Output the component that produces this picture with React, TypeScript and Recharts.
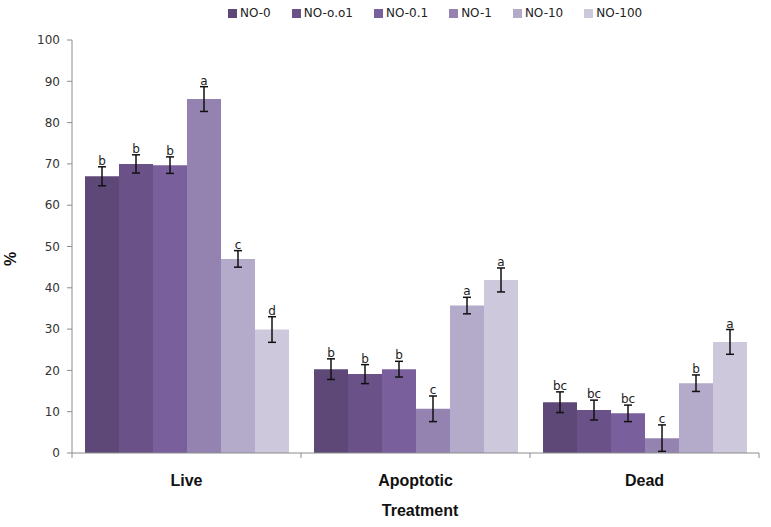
import React from 'react';
import { BarChart, Bar, XAxis, YAxis, ErrorBar, LabelList } from 'recharts';

const categories = ['Live', 'Apoptotic', 'Dead'];
const seriesNames = ['NO-0', 'NO-o.o1', 'NO-0.1', 'NO-1', 'NO-10', 'NO-100'];
const seriesColors = ['#5D4878', '#6A5289', '#7A5F9D', '#9483B0', '#B4AAC9', '#CEC8DC'];

const no0 = [67.0, 20.3, 12.3];
const no001 = [70.0, 19.1, 10.4];
const no01 = [69.7, 20.3, 9.6];
const no1 = [85.7, 10.7, 3.6];
const no10 = [47.0, 35.7, 16.9];
const no100 = [29.9, 41.9, 26.9];

const err0 = [2.3, 2.5, 2.5];
const err001 = [2.2, 2.3, 2.4];
const err01 = [2.0, 1.9, 2.0];
const err1 = [3.0, 3.1, 3.2];
const err10 = [2.0, 2.0, 2.0];
const err100 = [3.1, 2.9, 3.0];

const let0 = ['b', 'b', 'bc'];
const let001 = ['b', 'b', 'bc'];
const let01 = ['b', 'b', 'bc'];
const let1 = ['a', 'c', 'c'];
const let10 = ['c', 'a', 'b'];
const let100 = ['d', 'a', 'a'];

const yTicks = [0, 10, 20, 30, 40, 50, 60, 70, 80, 90, 100];

const values = [no0, no001, no01, no1, no10, no100];
const errors = [err0, err001, err01, err1, err10, err100];
const letters = [let0, let001, let01, let1, let10, let100];

const data = categories.map((c, i) => {
  const row: any = { name: c };
  values.forEach((v, s) => {
    row['v' + s] = v[i];
    row['e' + s] = errors[s][i];
    row['l' + s] = letters[s][i];
  });
  return row;
});

const CHART_W = 771;
const CHART_H = 527;
const M_LEFT = 0;
const Y_W = 72;
const M_RIGHT = 12;
const BAND = (CHART_W - M_LEFT - Y_W - M_RIGHT) / categories.length;

const makeLetter = (s: number) => (props: any) => {
  const { x, y, width, height, index } = props;
  const val = values[s][index];
  const err = errors[s][index];
  const ppu = height / val;
  const top = y - err * ppu;
  return (
    <text
      x={x + width / 2}
      y={top - 2}
      textAnchor="middle"
      fontFamily="DejaVu Sans, Verdana, sans-serif"
      fontSize={12}
      fill="#222"
    >
      {letters[s][index]}
    </text>
  );
};

const XTick = (props: any) => {
  const { x, y, payload, index } = props;
  const axisY = y - 8;
  return (
    <g>
      {index === 0 && (
        <line x1={x - BAND / 2} y1={axisY} x2={x - BAND / 2} y2={axisY + 5} stroke="#8c8c8c" />
      )}
      <line x1={x + BAND / 2} y1={axisY} x2={x + BAND / 2} y2={axisY + 5} stroke="#8c8c8c" />
      <text
        x={x}
        y={axisY + 33}
        textAnchor="middle"
        fontFamily="Liberation Sans, Arial, sans-serif"
        fontWeight="bold"
        fontSize={16}
        fill="#111"
      >
        {payload.value}
      </text>
    </g>
  );
};

export default function App() {
  return (
    <div style={{ position: 'absolute', left: 0, top: 0, width: CHART_W, height: CHART_H, background: '#fff' }}>
      <div
        style={{
          position: 'absolute',
          top: 5,
          left: 228,
          display: 'flex',
          fontFamily: 'DejaVu Sans, Verdana, sans-serif',
          fontSize: 12,
          color: '#222',
          lineHeight: '16px',
        }}
      >
        {seriesNames.map((n, i) => (
          <div key={n} style={{ display: 'flex', alignItems: 'center', marginRight: 21 }}>
            <span style={{ display: 'inline-block', width: 9, height: 9, background: seriesColors[i], marginRight: 3 }} />
            <span>{n}</span>
          </div>
        ))}
      </div>
      <BarChart
        width={CHART_W}
        height={CHART_H}
        data={data}
        margin={{ top: 40, right: M_RIGHT, left: M_LEFT, bottom: 44 }}
        barCategoryGap={13}
        barGap={0}
      >
        <XAxis
          dataKey="name"
          height={30}
          axisLine={{ stroke: '#8c8c8c' }}
          tickLine={false}
          tick={<XTick />}
          interval={0}
        />
        <YAxis
          width={Y_W}
          domain={[0, 100]}
          ticks={yTicks}
          interval={0}
          axisLine={{ stroke: '#8c8c8c' }}
          tickLine={{ stroke: '#8c8c8c' }}
          tickSize={5}
          tickMargin={7}
          tick={{ fontFamily: 'DejaVu Sans, Verdana, sans-serif', fontSize: 12, fill: '#333' }}
        />
        {seriesNames.map((n, s) => (
          <Bar key={n} dataKey={'v' + s} name={n} fill={seriesColors[s]} isAnimationActive={false}>
            <ErrorBar dataKey={'e' + s} width={4} stroke="#111" strokeWidth={1.5} direction="y" />
            <LabelList dataKey={'l' + s} content={makeLetter(s)} />
          </Bar>
        ))}
      </BarChart>
      <div
        style={{
          position: 'absolute',
          left: 4,
          top: 250,
          transform: 'rotate(-90deg)',
          fontFamily: 'Liberation Sans, Arial, sans-serif',
          fontWeight: 'bold',
          fontSize: 16,
          color: '#111',
        }}
      >
        %
      </div>
      <div
        style={{
          position: 'absolute',
          left: 0,
          width: 840,
          top: 502,
          textAlign: 'center',
          fontFamily: 'Liberation Sans, Arial, sans-serif',
          fontWeight: 'bold',
          fontSize: 16,
          color: '#111',
        }}
      >
        Treatment
      </div>
    </div>
  );
}
